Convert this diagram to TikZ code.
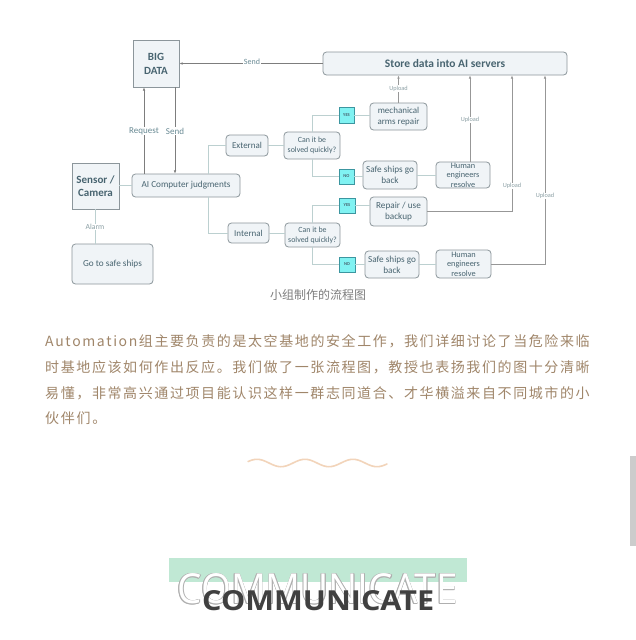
\documentclass[tikz,border=0pt]{standalone}
\usepackage{fontspec}
\usetikzlibrary{arrows.meta}
\setmainfont{Carlito}
\newfontfamily\cjk{Noto Sans CJK SC}
\newfontfamily\headfont{Open Sans}
\definecolor{boxfill}{RGB}{240,244,247}
\definecolor{boxline}{RGB}{140,150,155}
\definecolor{boxtext}{RGB}{72,100,112}
\definecolor{connline}{RGB}{188,208,208}
\definecolor{arrline}{RGB}{125,125,125}
\definecolor{lbltext}{RGB}{105,138,148}
\definecolor{upltext}{RGB}{140,160,165}
\definecolor{ynfill}{RGB}{128,242,242}
\definecolor{ynline}{RGB}{60,150,160}
\definecolor{paratext}{RGB}{160,134,106}
\definecolor{captext}{RGB}{125,125,125}
\definecolor{wavecol}{RGB}{242,212,186}
\definecolor{bandcol}{RGB}{192,232,212}
\definecolor{scrollcol}{RGB}{204,204,204}
\definecolor{headcol}{RGB}{64,64,64}
\definecolor{outlinecol}{RGB}{175,175,175}
% spread characters of a line with glue \sprglue between them
\def\sprd#1{\sprdA#1\relax}
\def\sprdA#1{#1\sprdB}
\def\sprdB#1{\ifx#1\relax\else\sprglue#1\expandafter\sprdB\fi}
\let\sprglue\hfill
\newcommand\outlinetext{\resizebox{280pt}{30pt}{\headfont COMMUNICATE}}
\tikzset{
  sqbox/.style={draw=boxline, fill=boxfill, text=boxtext, align=center, inner sep=0pt, line width=0.8pt},
  rbox/.style={sqbox, rounded corners=3.5pt},
  ynbox/.style={draw=ynline, fill=ynfill, text=boxtext, inner sep=0pt, line width=0.5pt, font=\bfseries\fontsize{4.5}{5}\selectfont},
  conn/.style={draw=connline, line width=0.8pt},
  arr/.style={draw=arrline, line width=0.7pt, -{Latex[length=3.2pt,width=2.6pt]}},
  uarr/.style={draw=arrline!80, line width=0.7pt, -{Latex[length=3.2pt,width=2.6pt]}},
  lbl/.style={fill=white, inner sep=0.6pt, text=lbltext, font=\fontsize{9}{10}\selectfont},
  ulbl/.style={fill=white, inner sep=0.6pt, text=upltext, font=\fontsize{6.3}{7}\selectfont},
  para/.style={anchor=west, inner sep=0pt, text=paratext, font=\cjk\fontsize{14}{16}\selectfont},
}
\begin{document}
\begin{tikzpicture}[x=1pt,y=-1pt]
\useasboundingbox (0,0) rectangle (636,640);
\fill[white] (0,0) rectangle (636,640);

% ---------- flowchart nodes ----------
\node[sqbox, minimum width=46pt, minimum height=47pt, font=\bfseries\fontsize{11}{14}\selectfont] (bigdata) at (156,63.5) {BIG\\DATA};
\node[rbox, minimum width=244pt, minimum height=23pt, font=\bfseries\fontsize{11.5}{13}\selectfont] (store) at (445,63.5) {Store data into AI servers};
\node[sqbox, minimum width=47pt, minimum height=46pt, font=\bfseries\fontsize{11}{13.5}\selectfont] (sensor) at (95.5,186) {Sensor /\\Camera};
\node[rbox, minimum width=108pt, minimum height=23pt, font=\fontsize{9.2}{11}\selectfont] (ai) at (186,185.5) {AI Computer judgments};
\node[rbox, minimum width=81pt, minimum height=40pt, font=\fontsize{9.2}{11}\selectfont] (gosafe) at (112.5,264) {Go to safe ships};
\node[rbox, minimum width=42pt, minimum height=21pt, font=\fontsize{9}{10}\selectfont] (ext) at (247,145.5) {External};
\node[rbox, minimum width=41pt, minimum height=20pt, font=\fontsize{9}{10}\selectfont] (int) at (248.5,233) {Internal};
\node[rbox, minimum width=56pt, minimum height=27pt, font=\fontsize{7.9}{10.5}\selectfont] (can1) at (312,145.5) {Can it be\\solved quickly?};
\node[rbox, minimum width=55pt, minimum height=24pt, font=\fontsize{7.9}{10}\selectfont] (can2) at (312.5,235) {Can it be\\solved quickly?};
\node[ynbox, minimum width=15pt, minimum height=16pt] (yes1) at (346.5,115) {YES};
\node[ynbox, minimum width=15pt, minimum height=15pt] (no1) at (346.5,176.5) {NO};
\node[ynbox, minimum width=16pt, minimum height=15pt] (yes2) at (347,205.5) {YES};
\node[ynbox, minimum width=16pt, minimum height=15pt] (no2) at (347,264.5) {NO};
\node[rbox, minimum width=57pt, minimum height=27pt, font=\fontsize{9}{10.7}\selectfont] (mech) at (398.5,116.5) {mechanical\\arms repair};
\node[rbox, minimum width=54pt, minimum height=28pt, font=\fontsize{9.2}{10.7}\selectfont] (safe1) at (390,175) {Safe ships go\\back};
\node[rbox, minimum width=54pt, minimum height=26pt, font=\fontsize{8.3}{9.5}\selectfont] (hum1) at (463,175) {Human\\engineers\\resolve};
\node[rbox, minimum width=57pt, minimum height=29pt, font=\fontsize{9.2}{10.7}\selectfont] (repair) at (398.5,211.5) {Repair / use\\backup};
\node[rbox, minimum width=54pt, minimum height=27pt, font=\fontsize{9.2}{10.7}\selectfont] (safe2) at (392,264.5) {Safe ships go\\back};
\node[rbox, minimum width=55pt, minimum height=28pt, font=\fontsize{8.3}{9.5}\selectfont] (hum2) at (463.5,264) {Human\\engineers\\resolve};

% helper coordinates
\coordinate (rq) at (144,0);
\coordinate (sd) at (175,0);
\coordinate (br) at (208,0);
\coordinate (u1) at (470,0);
\coordinate (u2) at (512,0);
\coordinate (u3) at (545,0);

% ---------- connectors ----------
\draw[arr] (store.west) -- (bigdata.east |- store.west);
\node[lbl, font=\fontsize{8}{9}\selectfont] (sendtop) at (252,62) {Send};
\draw[arr] (rq |- ai.north) -- (rq |- bigdata.south);
\draw[arr] (sd |- bigdata.south) -- (sd |- ai.north);
\node[lbl] (reqlbl) at (144,131) {Request};
\node[lbl] (sendlbl) at (175,131) {Send};
\draw[conn] (sensor.east |- ai.west) -- (ai.west);
\draw[conn] (sensor.south) -- (sensor.south |- gosafe.north);
\node[fill=white, inner sep=0.6pt, text=upltext, font=\fontsize{7.7}{9}\selectfont] (alarm) at (95,227) {Alarm};
\draw[conn] (ext.west) -| (br |- ai.north);
\draw[conn] (br |- ai.south) |- (int.west);
\draw[conn] (ext.east) -- (can1.west |- ext.east);
\draw[conn] (int.east) -- (can2.west |- int.east);
\draw[conn] (can1.north) |- (yes1.west);
\draw[conn] (can1.south) |- (no1.west);
\draw[conn] (can2.north) |- (yes2.west);
\draw[conn] (can2.south) |- (no2.west);
\draw[conn] (yes1.east) -- (mech.west |- yes1.east);
\draw[conn] (no1.east) -- (safe1.west |- no1.east);
\draw[conn] (safe1.east) -- (hum1.west |- safe1.east);
\draw[conn] (yes2.east) -- (repair.west |- yes2.east);
\draw[conn] (no2.east) -- (safe2.west |- no2.east);
\draw[conn] (safe2.east) -- (hum2.west |- safe2.east);

\draw[uarr] (mech.north) -- (mech.north |- store.south);
\draw[uarr] (u1 |- hum1.north) -- (u1 |- store.south);
\draw[uarr] (repair.east) -| (u2 |- store.south);
\draw[uarr] (hum2.east) -| (u3 |- store.south);
\node[ulbl] (up1) at (398.5,88.5) {Upload};
\node[ulbl] (up2) at (470,120) {Upload};
\node[ulbl] (up3) at (512,186) {Upload};
\node[ulbl] (up4) at (545,196) {Upload};

% caption
\node[text=captext, font=\cjk\fontsize{12}{14}\selectfont, inner sep=0pt] (caption) at (318,295) {小组制作的流程图};

% ---------- paragraph ----------
\node[para] (p1) at (45,341.5) {\hbox to 544.5pt{\sprd{Automation组主要负责的是太空基地的安全工作，我们详细讨论了当危险来临}}};
\node[para] (p2) at (45,367.2) {\hbox to 544.5pt{\sprd{时基地应该如何作出反应。我们做了一张流程图，教授也表扬我们的图十分清晰}}};
\node[para] (p3) at (45,392.9) {\hbox to 544.5pt{\sprd{易懂，非常高兴通过项目能认识这样一群志同道合、才华横溢来自不同城市的小}}};
\node[para] (p4) at (45,418.6) {\def\sprglue{\hskip1.7pt}\sprd{伙伴们。}};

% wave
\draw[wavecol, line width=1.6pt, line cap=round] plot[domain=248:387, samples=120, smooth] (\x, {463 - 3.7*cos((\x-257)*7.5)});

% scrollbar
\fill[scrollcol] (630,456) rectangle (636,546);

% heading
\fill[bandcol] (169,557.5) rectangle (466.7,581.7);
\foreach \dx/\dy [count=\i] in {0.8/0, -0.8/0, 0/0.8, 0/-0.8, 0.55/0.55, -0.55/0.55, 0.55/-0.55, -0.55/-0.55} {
  \node[text=outlinecol, inner sep=0pt] (ol\i) at (317.5+\dx, 589+\dy) {\outlinetext};
}
\node[text=white, inner sep=0pt] (olw) at (317.5,589) {\outlinetext};
\node[text=headcol, inner sep=0pt] (head) at (318.2,601) {\resizebox{232pt}{20pt}{\headfont\bfseries COMMUNICATE}};
\end{tikzpicture}
\end{document}
